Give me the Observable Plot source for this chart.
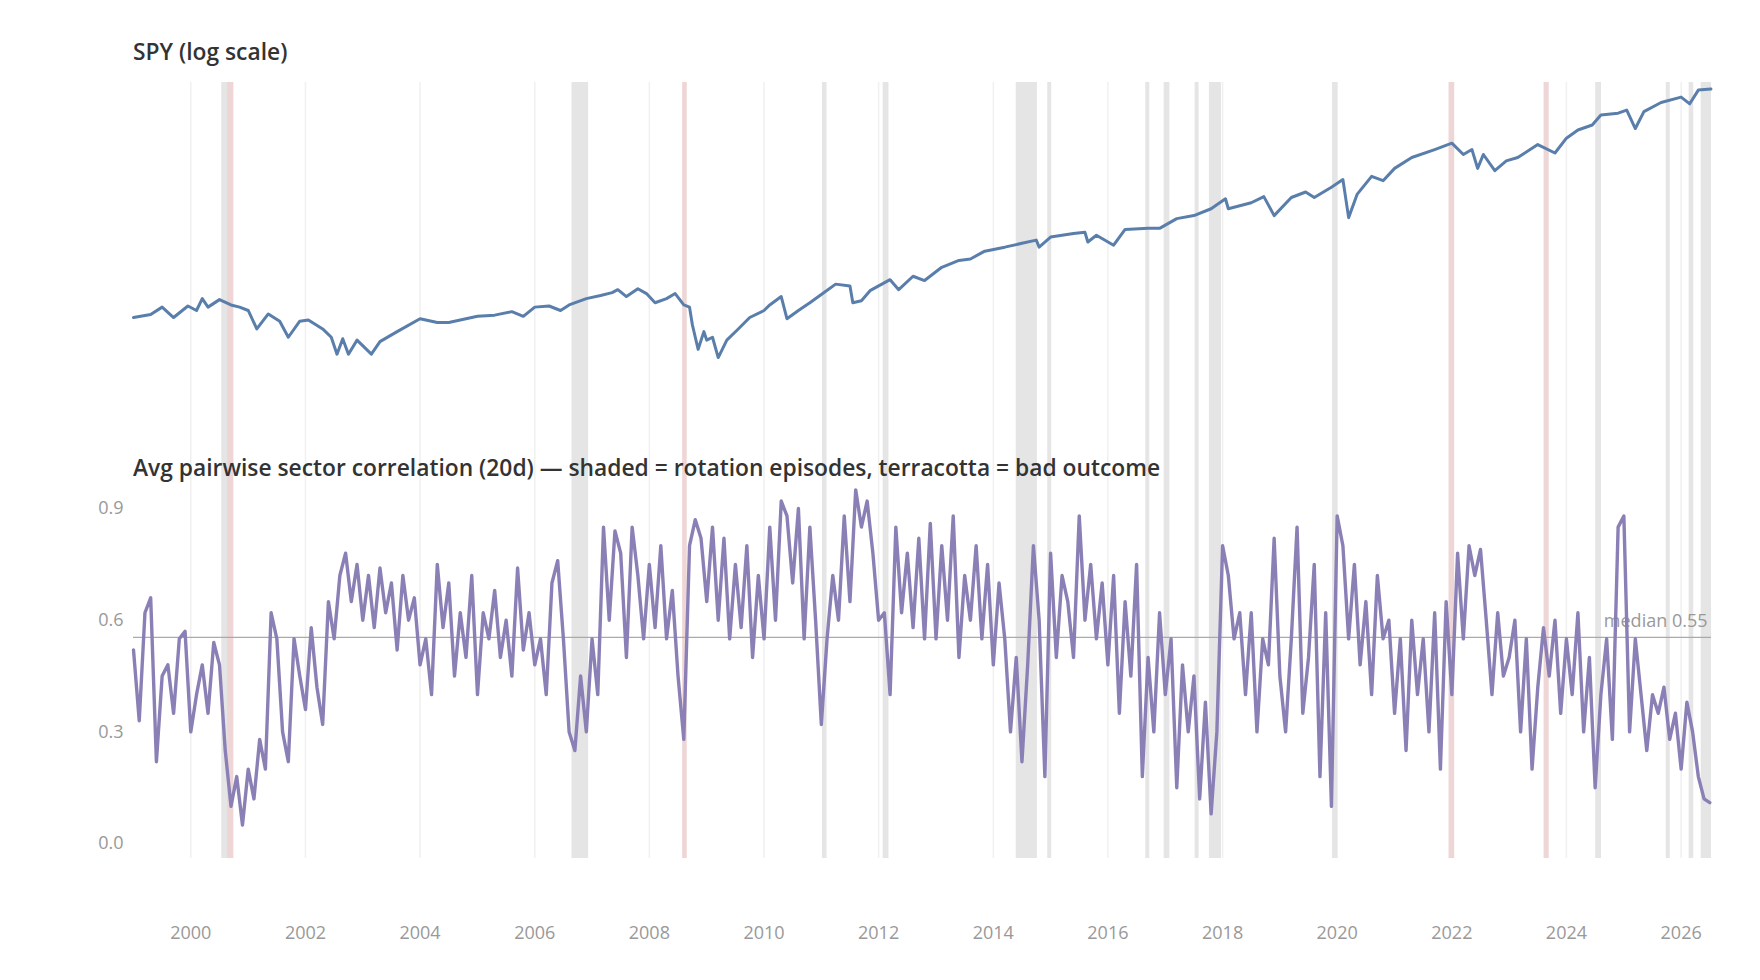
<!DOCTYPE html>
<html><head><meta charset="utf-8">
<script src="https://cdn.jsdelivr.net/npm/d3@7"></script>
<script src="https://cdn.jsdelivr.net/npm/@observablehq/plot@0.6"></script>
<style>
body{margin:0;background:#fff;font-family:"Open Sans","Noto Sans",sans-serif;}
#wrap{position:relative;width:1760px;height:980px;}
.title{position:absolute;left:133px;font-size:22.8px;font-weight:600;color:#333;white-space:nowrap;}
#topc,#botc{position:absolute;left:0;}
#topc{top:0}#botc{top:454px}
</style></head><body>
<div id="wrap"><div id="topc"></div><div id="botc"></div>
<div class="title" style="top:36px">SPY (log scale)</div>
<div class="title" style="top:452px">Avg pairwise sector correlation (20d) — shaded = rotation episodes, terracotta = bad outcome</div>
</div>
<script>
const spyYears=[1999.0,1999.3,1999.5,1999.7,1999.95,2000.1,2000.2,2000.3,2000.5,2000.7,2000.85,2001.0,2001.15,2001.35,2001.55,2001.7,2001.9,2002.05,2002.3,2002.45,2002.55,2002.65,2002.75,2002.9,2003.15,2003.3,2003.6,2004.0,2004.3,2004.5,2004.8,2005.0,2005.3,2005.6,2005.8,2006.0,2006.25,2006.45,2006.6,2006.9,2007.15,2007.35,2007.45,2007.6,2007.8,2007.95,2008.1,2008.3,2008.45,2008.6,2008.7,2008.75,2008.85,2008.95,2009.0,2009.1,2009.2,2009.35,2009.55,2009.75,2010.0,2010.1,2010.3,2010.4,2010.6,2010.8,2011.0,2011.25,2011.5,2011.55,2011.7,2011.85,2012.2,2012.35,2012.6,2012.8,2013.1,2013.4,2013.6,2013.85,2014.2,2014.5,2014.75,2014.8,2015.0,2015.4,2015.6,2015.65,2015.8,2016.1,2016.3,2016.7,2016.9,2017.2,2017.5,2017.8,2018.05,2018.1,2018.5,2018.72,2018.9,2019.2,2019.45,2019.6,2019.9,2020.1,2020.2,2020.35,2020.6,2020.8,2021.0,2021.3,2021.7,2022.0,2022.2,2022.35,2022.45,2022.55,2022.75,2022.95,2023.15,2023.5,2023.8,2024.0,2024.2,2024.45,2024.6,2024.9,2025.05,2025.2,2025.35,2025.65,2026.0,2026.15,2026.3,2026.52];
const spyValues=[96,98.6,105,96,106,102,113,105,112,107,105,102,87,99,93,81,93,94,87,81,70,80,70,79,70,78,85,95,92,92,95,97,98,101,97,105,106,102,107,113,116,119,122,115,123,118,109,113,118,107,105,90,73,85,79,81,68,79,87,96,102,107,115,95,102,109,117,128,126,109,111,121,133,122,137,132,148,157,159,170,176,182,187,176,192,198,200,184,195,179,205,207,207,225,231,245,267,245,258,272,231,270,283,270,295,315,227,278,324,312,347,381,408,431,391,408,347,391,340,370,381,426,396,450,483,504,549,558,573,489,566,612,641,605,681,687];
const corrValues=[
0.52,0.33,0.62,0.66,0.22,0.45,0.48,0.35,0.55,0.57,
0.30,0.40,0.48,0.35,0.54,0.48,0.25,0.10,0.18,0.05,
0.20,0.12,0.28,0.20,0.62,0.55,0.30,0.22,0.55,0.45,
0.36,0.58,0.42,0.32,0.65,0.55,0.72,0.78,0.65,0.75,
0.60,0.72,0.58,0.74,0.62,0.70,0.52,0.72,0.60,0.66,
0.48,0.55,0.40,0.75,0.58,0.70,0.45,0.62,0.50,0.72,
0.40,0.62,0.55,0.68,0.50,0.60,0.45,0.74,0.52,0.62,
0.48,0.55,0.40,0.70,0.76,0.55,0.30,0.25,0.45,0.30,
0.55,0.40,0.85,0.60,0.84,0.78,0.50,0.85,0.72,0.55,
0.75,0.58,0.80,0.55,0.68,0.45,0.28,0.80,0.87,0.82,
0.65,0.85,0.60,0.82,0.55,0.75,0.58,0.80,0.50,0.72,
0.55,0.85,0.60,0.92,0.88,0.70,0.90,0.55,0.85,0.60,
0.32,0.55,0.72,0.60,0.88,0.65,0.95,0.85,0.92,0.78,
0.60,0.62,0.40,0.85,0.62,0.78,0.58,0.82,0.55,0.86,
0.55,0.80,0.60,0.88,0.50,0.72,0.60,0.80,0.55,0.75,
0.48,0.70,0.55,0.30,0.50,0.22,0.48,0.80,0.60,0.18,
0.78,0.50,0.72,0.65,0.50,0.88,0.60,0.75,0.55,0.70,
0.48,0.72,0.35,0.65,0.45,0.75,0.18,0.50,0.30,0.62,
0.40,0.55,0.15,0.48,0.30,0.45,0.12,0.38,0.08,0.30,
0.80,0.72,0.55,0.62,0.40,0.62,0.30,0.55,0.48,0.82,
0.45,0.30,0.55,0.85,0.35,0.50,0.75,0.18,0.62,0.10,
0.88,0.80,0.55,0.75,0.48,0.65,0.40,0.72,0.55,0.60,
0.35,0.55,0.25,0.60,0.40,0.55,0.30,0.62,0.20,0.65,
0.40,0.78,0.55,0.80,0.72,0.79,0.60,0.40,0.62,0.45,
0.50,0.60,0.30,0.55,0.20,0.42,0.58,0.45,0.60,0.35,
0.55,0.40,0.62,0.30,0.50,0.15,0.40,0.55,0.28,0.85,
0.88,0.30,0.55,0.40,0.25,0.40,0.35,0.42,0.28,0.35,
0.20,0.38,0.30,0.18,0.12,0.11];
const corrStart=1999.0, corrStep=0.1;
const bandStart=[2000.54,2000.64,2006.65,2008.58,2011.02,2012.08,2014.40,2014.95,2016.66,2016.98,2017.52,2017.77,2019.92,2021.95,2023.61,2024.51,2025.74,2026.14,2026.35];
const bandEnd  =[2000.64,2000.75,2006.94,2008.66,2011.10,2012.18,2014.77,2015.02,2016.73,2017.08,2017.59,2017.98,2020.01,2022.05,2023.70,2024.61,2025.81,2026.22,2026.53];
const bandBad  =[false,true,false,true,false,false,false,false,false,false,false,false,false,true,true,false,false,false,false];
const median=0.554;
const gridYears=[2000,2002,2004,2006,2008,2010,2012,2014,2016,2018,2020,2022,2024,2026];

const toDate=y=>{const yr=Math.floor(y);const s=Date.UTC(yr,0,1),e=Date.UTC(yr+1,0,1);return new Date(s+(y-yr)*(e-s));};
const spy=spyYears.map((y,i)=>({date:toDate(y),v:spyValues[i]}));
const corr=corrValues.map((v,i)=>({date:toDate(corrStart+i*corrStep),v}));
const bands=bandStart.map((s,i)=>({x1:toDate(s),x2:toDate(bandEnd[i]),bad:bandBad[i]}));
const grid=gridYears.map(y=>toDate(y));
const xdom=[toDate(1999.0),toDate(2026.53)];
const fill=d=>d.bad?"#efd6d6":"#e5e5e5";
const W=1760, ML=133, MR=49;

const topPlot=Plot.plot({width:W,height:454,marginLeft:ML,marginRight:MR,marginTop:82,marginBottom:0,
  x:{domain:xdom,axis:null},y:{type:"log",domain:[29.5,727],axis:null},
  marks:[
    Plot.ruleX(grid,{stroke:"#f0f0f0",strokeWidth:1.5}),
    Plot.rectX(bands,{x1:"x1",x2:"x2",fill}),
    Plot.line(spy,{x:"date",y:"v",stroke:"#5a7eab",strokeWidth:3})
  ]});
document.getElementById("topc").append(topPlot);

const botPlot=Plot.plot({width:W,height:526,marginLeft:ML,marginRight:MR,marginTop:0,marginBottom:122,
  style:{fontFamily:"Open Sans, Noto Sans, sans-serif",fontSize:"18px",color:"#999"},
  x:{domain:xdom},y:{domain:[-0.04,1.045]},
  marks:[
    Plot.ruleX(grid,{stroke:"#f0f0f0",strokeWidth:1.5}),
    Plot.rectX(bands,{x1:"x1",x2:"x2",fill}),
    Plot.ruleY([median],{stroke:"#aaa",strokeWidth:1.3}),
    Plot.text([median],{y:d=>d,x:xdom[1],text:d=>"median "+d.toFixed(2),textAnchor:"end",dy:-16,dx:-4,fill:"#999",fontSize:18}),
    Plot.line(corr,{x:"date",y:"v",stroke:"#8b80b6",strokeWidth:3.4}),
    Plot.axisY({ticks:[0,0.3,0.6,0.9],tickFormat:d3.format(".1f"),tickSize:0,tickPadding:10,label:null,fill:"#999"}),
    Plot.axisX({ticks:grid,tickFormat:d3.utcFormat("%Y"),tickSize:0,tickPadding:68,label:null,fill:"#999"})
  ]});
document.getElementById("botc").append(botPlot);
</script></body></html>
